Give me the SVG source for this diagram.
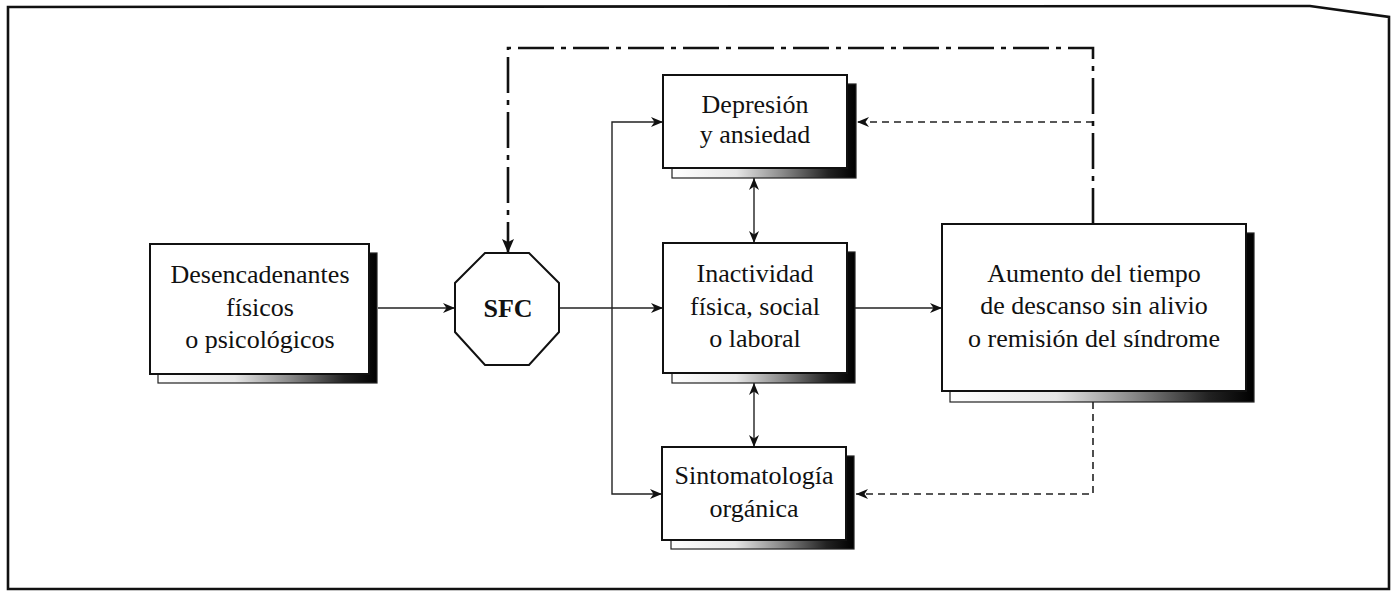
<svg xmlns="http://www.w3.org/2000/svg" width="1398" height="593" viewBox="0 0 1398 593">
  <style>
    .box { fill: #fff; stroke: #111; stroke-width: 2; }
    .back { fill: url(#shade); stroke: #222; stroke-width: 1.2; }
    .t { font-family: "Liberation Serif", "Times New Roman", serif; font-size: 26px; fill: #111; text-anchor: middle; }
    .b { font-weight: bold; }
    .ln { fill: none; stroke: #222; stroke-width: 1.4; }
    .dash { fill: none; stroke: #222; stroke-width: 1.6; stroke-dasharray: 7 5; }
    .dd { fill: none; stroke: #111; stroke-width: 2.6; stroke-dasharray: 36 7 5 7; }
    .frame { fill: none; stroke: #111; stroke-width: 2.6; }
  </style>
  <defs>
    <linearGradient id="shade" x1="0" y1="0" x2="1" y2="0">
      <stop offset="0" stop-color="#fff"/>
      <stop offset="0.35" stop-color="#e6e6e6"/>
      <stop offset="0.6" stop-color="#8a8a8a"/>
      <stop offset="0.85" stop-color="#222"/>
      <stop offset="1" stop-color="#000"/>
    </linearGradient>
    <marker id="ah" viewBox="0 0 12 10" refX="12" refY="5" markerWidth="12" markerHeight="10" markerUnits="userSpaceOnUse" orient="auto-start-reverse">
      <path d="M0,0 L12,5 L0,10 L3.5,5 Z" fill="#111"/>
    </marker>
    <marker id="ahBig" viewBox="0 0 14 12" refX="14" refY="6" markerWidth="14" markerHeight="12" markerUnits="userSpaceOnUse" orient="auto">
      <path d="M0,0 L14,6 L0,12 L3,6 Z" fill="#111"/>
    </marker>
  </defs>

  <rect width="1398" height="593" fill="#fff"/>
  <path class="frame" d="M8,589 L8,7 L1310,6 L1389,17 L1389,589 Z"/>

  <g id="connectors">
    <line class="ln" x1="378" y1="308" x2="455" y2="308" marker-end="url(#ah)"/>
    <line class="ln" x1="559" y1="308" x2="663" y2="308" marker-end="url(#ah)"/>
    <polyline class="ln" points="663,122 612,122 612,494 662,494" marker-start="url(#ah)" marker-end="url(#ah)"/>
    <line class="ln" x1="754" y1="178" x2="754" y2="243" stroke-width="1.8" marker-start="url(#ah)" marker-end="url(#ah)"/>
    <line class="ln" x1="754" y1="383" x2="754" y2="447" stroke-width="1.8" marker-start="url(#ah)" marker-end="url(#ah)"/>
    <line class="ln" x1="855" y1="308" x2="942" y2="308" marker-end="url(#ah)"/>
    <polyline class="dash" points="1093,402 1093,494 856,494" marker-end="url(#ah)"/>
    <line class="dash" x1="1093" y1="122" x2="857" y2="122" marker-end="url(#ah)"/>
    <polyline class="dd" points="1093,224 1093,48 508,48 508,253" marker-end="url(#ahBig)"/>
  </g>

  <g id="desencadenantes">
    <rect class="back" x="158" y="253" width="219" height="130"/>
    <rect class="box" x="150" y="244" width="219" height="130"/>
    <text class="t" x="260" y="283">Desencadenantes</text>
    <text class="t" x="260" y="316">físicos</text>
    <text class="t" x="260" y="348">o psicológicos</text>
  </g>

  <g id="sfc">
    <polygon class="box" points="485,253 529,253 559,283 559,332 529,365 485,365 455,332 455,283"/>
    <text class="t b" x="508" y="317">SFC</text>
  </g>

  <g id="depresion">
    <rect class="back" x="672" y="84" width="184" height="94"/>
    <rect class="box" x="663" y="75" width="184" height="93"/>
    <text class="t" x="755" y="113">Depresión</text>
    <text class="t" x="755" y="143">y ansiedad</text>
  </g>

  <g id="inactividad">
    <rect class="back" x="672" y="252" width="183" height="131"/>
    <rect class="box" x="663" y="243" width="184" height="130"/>
    <text class="t" x="755" y="282">Inactividad</text>
    <text class="t" x="755" y="315">física, social</text>
    <text class="t" x="755" y="347">o laboral</text>
  </g>

  <g id="sintomatologia">
    <rect class="back" x="671" y="456" width="183" height="93"/>
    <rect class="box" x="662" y="447" width="184" height="93"/>
    <text class="t" x="754" y="484">Sintomatología</text>
    <text class="t" x="754" y="517">orgánica</text>
  </g>

  <g id="aumento">
    <rect class="back" x="950" y="233" width="304" height="169"/>
    <rect class="box" x="942" y="224" width="304" height="167"/>
    <text class="t" x="1094" y="282">Aumento del tiempo</text>
    <text class="t" x="1094" y="314">de descanso sin alivio</text>
    <text class="t" x="1094" y="347">o remisión del síndrome</text>
  </g>
</svg>
